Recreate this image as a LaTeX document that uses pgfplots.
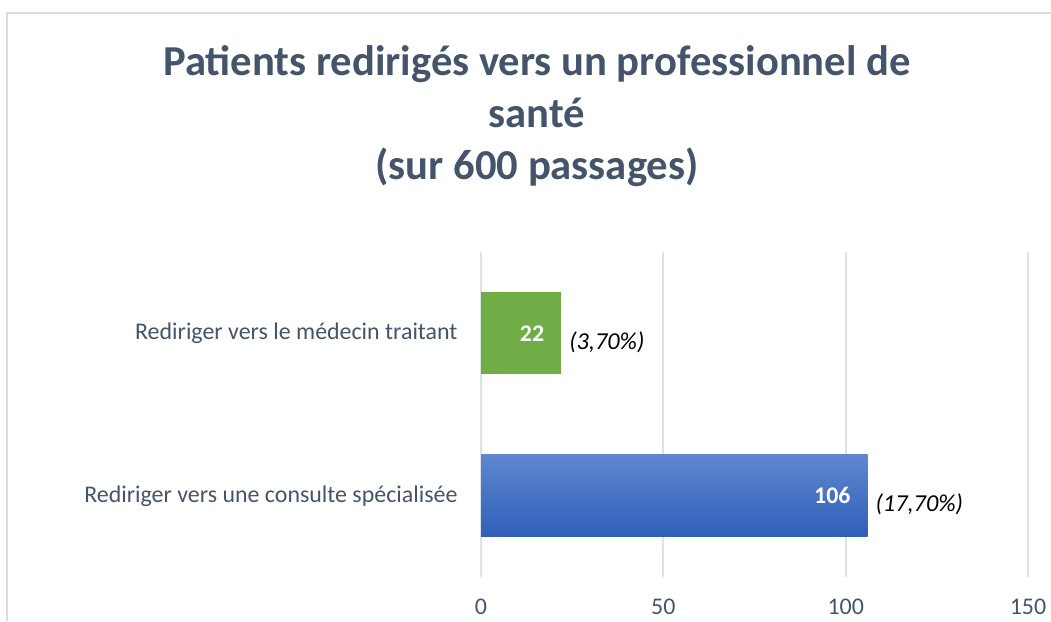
\documentclass[border=0pt]{standalone}
\usepackage{fontspec}
\setmainfont{Carlito}
\usepackage{pgfplots}
\pgfplotsset{compat=1.18}

\definecolor{titlecol}{HTML}{44546A}
\definecolor{labelcol}{HTML}{44546A}
\definecolor{gridcol}{HTML}{DDE1E8}
\definecolor{bordercol}{HTML}{D9DDE3}
\definecolor{barGreen}{HTML}{70AD47}
\definecolor{blueTop}{HTML}{5E87CE}
\definecolor{blueBot}{HTML}{2F5FB8}

\begin{document}
\begin{tikzpicture}[x=1bp,y=1bp]
\useasboundingbox (0,0) rectangle (525.5,310.5);
\draw[color=bordercol, line width=1bp] (3.5,0) -- (3.5,304) -- (525.5,304);

\begin{axis}[
    at={(240.5bp,22bp)}, anchor=south west,
    scale only axis, width=273.5bp, height=162.5bp,
    xbar, bar width=41bp,
    xmin=0, xmax=150, ymin=-0.5, ymax=1.5,
    xtick={0,50,100,150},
    ytick={0,1},
    yticklabels={Rediriger vers une consulte spécialisée, Rediriger vers le médecin traitant},
    axis line style={draw=none}, tick style={draw=none},
    xmajorgrids, grid style={color=gridcol, line width=1bp},
    ticklabel style={font=\fontsize{12}{14}\selectfont, text=labelcol},
    xticklabel style={yshift=-7.5bp},
    yticklabel style={xshift=-4bp},
    /pgf/number format/assume math mode=true,
    clip=false,
]
% médecin traitant
\addplot[bar shift=0pt, fill=barGreen, draw=none, point meta=x,
    nodes near coords,
    nodes near coords style={anchor=east, xshift=-5bp, text=white,
        font=\bfseries\fontsize{12}{14}\selectfont}]
    coordinates {(22,1)};
% consulte spécialisée
\addplot[bar shift=0pt, draw=none, top color=blueTop, bottom color=blueBot, point meta=x,
    nodes near coords,
    nodes near coords style={anchor=east, xshift=-5bp, text=white,
        font=\bfseries\fontsize{12}{14}\selectfont}]
    coordinates {(106,0)};
% pourcentages
\addplot[bar shift=0pt, draw=none, fill=none, point meta=explicit symbolic,
    nodes near coords,
    nodes near coords style={anchor=west, xshift=0.5bp, yshift=-4.5bp, text=black,
        font=\itshape\fontsize{12.2}{14}\selectfont}]
    coordinates {(22,1) [{(3,70\%)}] (106,0) [{(17,70\%)}]};
\end{axis}

\node[align=center, text=titlecol, font=\bfseries\fontsize{21.4}{26}\selectfont]
    at (268.5,252.5) {Patients redirigés vers un professionnel de\\santé\\(sur 600 passages)};
\end{tikzpicture}
\end{document}
